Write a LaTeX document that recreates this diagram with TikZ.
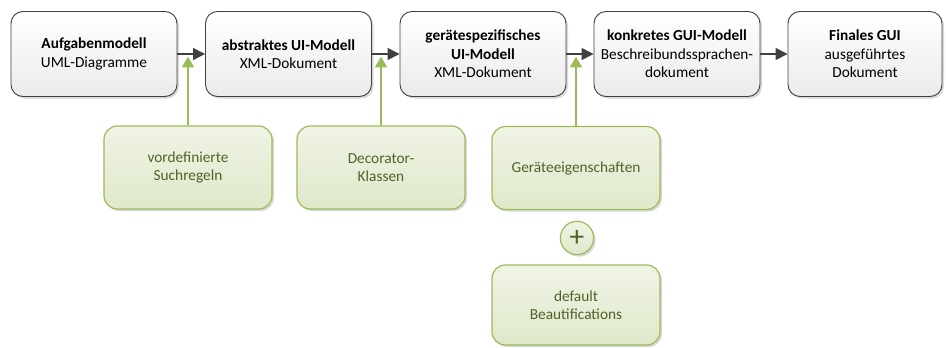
\documentclass[tikz,border=0pt]{standalone}
\usepackage{fontspec}
\setmainfont{Carlito}
\usetikzlibrary{arrows.meta,shadows}
\definecolor{boxline}{HTML}{404040}
\definecolor{leafline}{HTML}{9BBB59}
\definecolor{leaftext}{HTML}{4F6228}
\definecolor{leaftop}{HTML}{F0F4E5}
\definecolor{leafbottom}{HTML}{DFE8CA}

\begin{document}
\begin{tikzpicture}[x=0.75pt,y=-0.75pt,
		stage/.style={draw=boxline, line width=0.7pt, rounded corners=9pt,
			top color=white, bottom color=gray!16, align=center,
			minimum width=124.5pt, minimum height=63.75pt, inner sep=1pt,
			font=\fontsize{11.5}{13.9}\selectfont,
			drop shadow={opacity=0.3, shadow xshift=1.5pt, shadow yshift=-1.5pt}},
		input/.style={draw=leafline, line width=0.9pt, rounded corners=10pt,
			top color=leaftop, bottom color=leafbottom, text=leaftext, align=center,
			minimum width=126pt, minimum height=62.25pt,
			font=\fontsize{11.5}{13.9}\selectfont,
			drop shadow={opacity=0.3, shadow xshift=1.5pt, shadow yshift=-1.5pt}},
		flow/.style={draw=boxline, line width=1.1pt, -{Triangle[length=9pt,width=9pt]}},
		feed/.style={draw=leafline, line width=1.3pt, -{Triangle[length=8pt,width=9pt]}, shorten >=2pt}]
		\useasboundingbox (0,0) rectangle (946,347);

		\node[stage] (aufgaben) at (94,54){\textbf{Aufgabenmodell}\\UML-Diagramme};
		\node[stage] (abstrakt) at (288.5,54){\textbf{abstraktes UI-Modell}\\XML-Dokument};
		\node[stage] (geraet) at (483,54){\textbf{gerätespezifisches}\\\textbf{UI-Modell}\\XML-Dokument};
		\node[stage] (konkret) at (677,54){\textbf{konkretes GUI-Modell}\\Beschreibundssprachen-\\dokument};
		\node[stage, minimum width=115.5pt] (final) at (865,54){\textbf{Finales GUI}\\ausgeführtes\\Dokument};

		\draw[flow] (aufgaben) -- (abstrakt);
		\draw[flow] (abstrakt) -- (geraet);
		\draw[flow] (geraet) -- (konkret);
		\draw[flow] (konkret) -- (final);

		\node[input] (such) at (188,167.5){vordefinierte\\Suchregeln};
		\node[input] (deco) at (381,167.5){Decorator-\\Klassen};
		\node[input] (eigen) at (576,168){Geräteeigenschaften};
		\node[input, minimum height=60pt] (beauty) at (576,305){default\\Beautifications};

		\node[circle, draw=leafline, line width=0.9pt, top color=leaftop, bottom color=leafbottom,
			minimum size=25pt, inner sep=0pt, text=leaftext, font=\fontsize{22}{22}\selectfont,
			drop shadow={opacity=0.3, shadow xshift=1.5pt, shadow yshift=-1.5pt}] (plus) at (577,238){+};

		\coordinate (j1) at (such.north |- aufgaben.east);
		\coordinate (j2) at (deco.north |- abstrakt.east);
		\coordinate (j3) at (eigen.north |- geraet.east);
		\draw[feed] (such.north) -- (j1);
		\draw[feed] (deco.north) -- (j2);
		\draw[feed] (eigen.north) -- (j3);
	\end{tikzpicture}
\end{document}
